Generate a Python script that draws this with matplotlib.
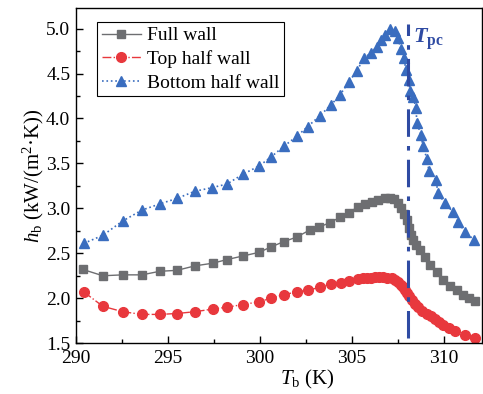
import matplotlib
matplotlib.use("Agg")
import matplotlib.pyplot as plt
from matplotlib.ticker import MultipleLocator, FormatStrFormatter

plt.rcParams.update({
    "font.family": "Liberation Serif",
    "mathtext.fontset": "custom",
    "mathtext.rm": "Liberation Serif",
    "mathtext.it": "Liberation Serif:italic",
    "mathtext.bf": "Liberation Serif:bold",
    "mathtext.sf": "Liberation Serif:bold:italic",
    "font.size": 14,
    "xtick.direction": "in",
    "ytick.direction": "in",
})

# ── data ────────────────────────────────────────
full_T = [290.38, 291.47, 292.55, 293.59, 294.57, 295.49, 296.47, 297.45, 298.21, 299.08,
          299.95, 300.6, 301.3, 302.0, 302.72, 303.2, 303.8, 304.35, 304.84, 305.33,
          305.7, 306.09, 306.41, 306.79, 307.07, 307.28, 307.5, 307.66, 307.83, 307.99,
          308.1, 308.21, 308.32, 308.48, 308.7, 308.97, 309.24, 309.62, 309.95, 310.33,
          310.71, 311.03, 311.36, 311.68]
full_h = [2.32, 2.25, 2.26, 2.26, 2.30, 2.31, 2.36, 2.39, 2.43, 2.47,
          2.51, 2.57, 2.63, 2.68, 2.76, 2.79, 2.84, 2.90, 2.95, 3.02,
          3.05, 3.07, 3.09, 3.11, 3.11, 3.10, 3.06, 3.00, 2.94, 2.87,
          2.78, 2.70, 2.65, 2.59, 2.54, 2.46, 2.37, 2.29, 2.20, 2.14,
          2.09, 2.04, 2.00, 1.97]

top_T = [290.43, 291.47, 292.55, 293.59, 294.57, 295.49, 296.47, 297.45, 298.21, 299.08,
         299.95, 300.6, 301.3, 302.0, 302.6, 303.26, 303.86, 304.4, 304.84, 305.33,
         305.6, 305.8, 306.05, 306.25, 306.45, 306.68, 306.9, 307.17, 307.35, 307.5,
         307.65, 307.77, 307.9, 307.99, 308.12, 308.26, 308.42, 308.59, 308.8, 309.08,
         309.3, 309.51, 309.75, 309.95, 310.25, 310.6, 311.14, 311.68]
top_h = [2.07, 1.91, 1.85, 1.82, 1.82, 1.83, 1.85, 1.88, 1.90, 1.93,
         1.96, 2.00, 2.04, 2.07, 2.09, 2.12, 2.16, 2.17, 2.19, 2.21,
         2.22, 2.22, 2.23, 2.24, 2.24, 2.24, 2.23, 2.22, 2.20, 2.18,
         2.15, 2.12, 2.09, 2.06, 2.02, 1.98, 1.94, 1.90, 1.86, 1.83,
         1.80, 1.77, 1.73, 1.70, 1.67, 1.64, 1.59, 1.56]

bot_T = [290.43, 291.47, 292.55, 293.59, 294.57, 295.49, 296.47, 297.39, 298.21, 299.08,
         299.95, 300.6, 301.3, 302.0, 302.6, 303.26, 303.86, 304.35, 304.84, 305.27,
         305.65, 306.03, 306.36, 306.58, 306.79, 307.07, 307.34, 307.5, 307.66, 307.83,
         307.93, 308.1, 308.15, 308.32, 308.48, 308.53, 308.75, 308.86, 309.08, 309.18,
         309.57, 309.67, 310.05, 310.49, 310.76, 311.14, 311.63]
bot_h = [2.61, 2.70, 2.86, 2.98, 3.05, 3.11, 3.19, 3.23, 3.27, 3.38,
         3.47, 3.57, 3.69, 3.80, 3.91, 4.03, 4.15, 4.26, 4.41, 4.53,
         4.67, 4.73, 4.80, 4.87, 4.93, 4.99, 4.97, 4.90, 4.77, 4.67,
         4.54, 4.43, 4.30, 4.24, 4.12, 3.95, 3.82, 3.69, 3.55, 3.42,
         3.32, 3.17, 3.06, 2.96, 2.85, 2.74, 2.65]

T_pc = 308.05

GRAY = "#6d6e71"
RED = "#e8383d"
BLUE = "#3a6dbf"
DARKBLUE = "#2f4ba3"

fig = plt.figure(figsize=(4.83, 3.94), dpi=100)
ax = fig.add_axes([0.157, 0.129, 0.841, 0.851])

ax.plot(full_T, full_h, color=GRAY, linestyle="-", linewidth=1.0,
        marker="s", markersize=6, label="Full wall")
ax.plot(top_T, top_h, color=RED, linestyle="-.", linewidth=1.0,
        marker="o", markersize=7, label="Top half wall")
ax.plot(bot_T, bot_h, color=BLUE, linestyle=":", linewidth=1.2,
        marker="^", markersize=7.5, label="Bottom half wall")

ax.plot([T_pc, T_pc], [1.56, 5.05], color=DARKBLUE, linestyle="-.",
        linewidth=2.2, dashes=(9, 3, 1.5, 3))
ax.text(T_pc + 0.25, 4.88, r"$\mathsf{T}_{\mathbf{pc}}$", color=DARKBLUE,
        fontsize=16, ha="left", va="center")

ax.set_xlim(290, 312.07)
ax.set_ylim(1.5, 5.23)
ax.xaxis.set_major_locator(MultipleLocator(5))
ax.xaxis.set_minor_locator(MultipleLocator(2.5))
ax.yaxis.set_major_locator(MultipleLocator(0.5))
ax.yaxis.set_minor_locator(MultipleLocator(0.25))
ax.yaxis.set_major_formatter(FormatStrFormatter("%.1f"))
ax.tick_params(which="major", length=5, width=1)
ax.tick_params(which="minor", length=3, width=1)
ax.tick_params(axis="x", pad=5)
ax.tick_params(axis="y", pad=4)
for s in ax.spines.values():
    s.set_linewidth(1.0)

ax.set_xlabel(r"$T_{\rm b}$ (K)", fontsize=15, labelpad=0)
ax.xaxis.set_label_coords(0.57, -0.075, transform=ax.transAxes)
ax.xaxis.label.set_va("top")
ax.set_ylabel(r"$h_{\rm b}$ (kW/(m$^2$·K))", fontsize=15, labelpad=0)

leg = ax.legend(loc="upper left", bbox_to_anchor=(0.052, 0.958), fancybox=False,
                edgecolor="black", framealpha=1, handlelength=2.0,
                borderpad=0.25, labelspacing=0.3, handletextpad=0.3,
                borderaxespad=0)
leg.get_frame().set_linewidth(0.8)

plt.savefig("out.png", dpi=100)
